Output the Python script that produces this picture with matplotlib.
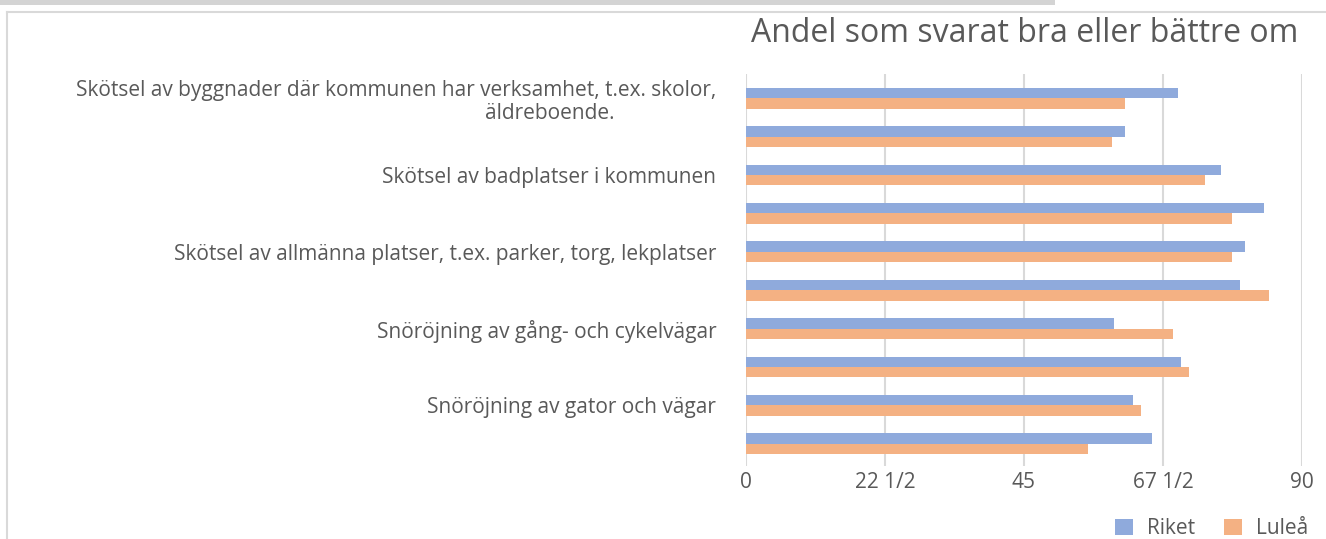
import numpy as np
import matplotlib.pyplot as plt
from matplotlib.patches import Rectangle
from matplotlib.lines import Line2D

# categories from top to bottom (only every other one is labelled in the original)
categories = [
    "Skötsel av byggnader där kommunen har verksamhet, t.ex. skolor,\näldreboende.",
    "",
    "Skötsel av badplatser i kommunen",
    "",
    "Skötsel av allmänna platser, t.ex. parker, torg, lekplatser",
    "",
    "Snöröjning av gång- och cykelvägar",
    "",
    "Snöröjning av gator och vägar",
    "",
]
riket = [70.0, 61.4, 76.9, 83.9, 80.8, 80.0, 59.6, 70.4, 62.7, 65.8]
lulea = [61.4, 59.2, 74.3, 78.7, 78.7, 84.7, 69.1, 71.7, 64.0, 55.4]
series_names = ["Riket", "Luleå"]
xticks = [0, 22.5, 45, 67.5, 90]
xtick_labels = ["0", "22 1/2", "45", "67 1/2", "90"]
title = "Andel som svarat bra eller bättre om"

blue = "#8FAADC"
orange = "#F4B183"
grid_col = "#D9D9D9"
text_col = "#595959"

plt.rcParams['font.family'] = ['Open Sans', 'DejaVu Sans']

fig = plt.figure(figsize=(13.26, 5.39), dpi=100)
W, H = 1326, 539

# frame of the chart box and the grey strip at the top (page behind the chart)
fig.add_artist(Rectangle((0, 1 - 5 / H), 1055 / W, 5 / H, transform=fig.transFigure,
                         facecolor="#D4D4D4", edgecolor="none"))
fig.add_artist(Line2D([7 / W, 1], [1 - 12 / H, 1 - 12 / H], transform=fig.transFigure,
                      color=grid_col, lw=1.5))
fig.add_artist(Line2D([7 / W, 7 / W], [0, 1 - 12 / H], transform=fig.transFigure,
                      color=grid_col, lw=1.5))

# plot area: gridlines run from y=74 to y=466 px
top_px, bot_px = 74, 466
ax = fig.add_axes([746 / W, 1 - bot_px / H, (1302 - 746) / W, (bot_px - top_px) / H])

y = np.arange(len(categories))
h = 0.27
ax.barh(y - h / 2, riket, height=h, color=blue, label=series_names[0], zorder=3)
ax.barh(y + h / 2, lulea, height=h, color=orange, label=series_names[1], zorder=3)

# excel lets the gridlines overshoot the category band a little
step = 38.4
ax.set_ylim(len(categories) - 0.5 + 3 / step, -0.5 - 5 / step)
ax.set_xlim(0, 90)
ax.set_xticks(xticks)
ax.set_xticklabels(xtick_labels)
ax.set_yticks(y)
# excel puts the wrapped second line off-centre; pad it so it sits like the original
ylabels = [c + " " * 19 if "\n" in c else c for c in categories]
ax.set_yticklabels(ylabels, multialignment='right', linespacing=1.15)

ax.grid(axis='x', color=grid_col, lw=1.5, zorder=0)
for s in ax.spines.values():
    s.set_visible(False)
ax.tick_params(axis='both', length=0, colors=text_col, labelsize=15)
ax.tick_params(axis='x', pad=4)
ax.tick_params(axis='y', pad=21.5)

fig.text(1025 / W, 1 - 33 / H, title, ha='center', va='center', fontsize=23, color=text_col)

fig.legend(loc='lower left', bbox_to_anchor=(1115 / W, 0), ncol=2, frameon=False,
           fontsize=15, labelcolor=text_col, handlelength=0.87, handleheight=0.8,
           columnspacing=1.4, handletextpad=0.65, borderaxespad=0, borderpad=0)

fig.savefig("out.png", dpi=100)
